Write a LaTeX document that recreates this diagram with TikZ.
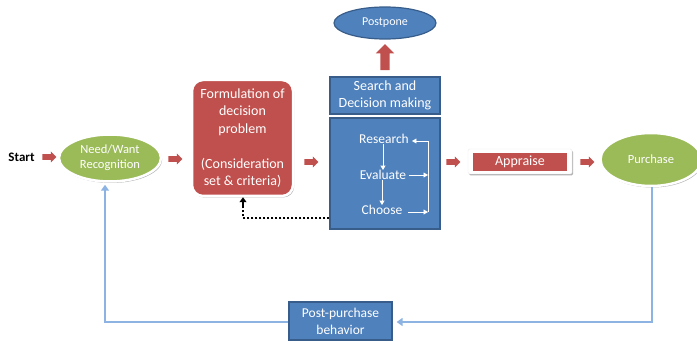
\documentclass[tikz,border=0pt]{standalone}
\usepackage{fontspec}
\setmainfont{Carlito}
\usetikzlibrary{shapes.geometric,shapes.arrows,arrows.meta,shadows}
\definecolor{cred}{HTML}{C0504D}
\definecolor{cgreen}{HTML}{9BBB59}
\definecolor{cblue}{HTML}{4F81BD}
\definecolor{cblueb}{HTML}{385D8A}
\definecolor{clight}{HTML}{8DB3E2}
\tikzset{
  shad/.style={drop shadow={shadow xshift=1.2pt,shadow yshift=-1.5pt,opacity=0.3,fill=black}},
  redarr/.style={single arrow,fill=cred,draw=none,minimum height=14pt,minimum width=11pt,
    inner sep=2.6pt,single arrow head extend=2.5pt,anchor=center},
  greenell/.style={ellipse,fill=cgreen,draw=white,line width=2.5pt,shad,text=white,
    font=\fontsize{12.5}{15}\selectfont,align=center,inner sep=0pt},
  bluebox/.style={rectangle,fill=cblue,draw=cblueb,line width=1.2pt,text=white,
    font=\fontsize{14}{17}\selectfont,align=center,inner sep=0pt},
  wtxt/.style={text=white,font=\fontsize{13.5}{16}\selectfont,inner sep=0pt},
  smallw/.style={white,line width=0.9pt,-{Triangle[width=5pt,length=4.5pt]}},
  fb/.style={clight,line width=2pt,-{Triangle[width=8pt,length=6pt]}}
}
\begin{document}
\begin{tikzpicture}[x=1pt,y=-1pt]
\useasboundingbox (0,0) rectangle (697,342);
% Start
\node[font=\bfseries\fontsize{13}{15}\selectfont,inner sep=0pt] (start) at (21.5,157) {Start};
\node[redarr] (a1) at (48,157) {};
% Need/Want
\node[greenell,minimum width=102pt,minimum height=47pt] (need) at (110,158) {Need/Want\\Recognition};
\node[redarr] (a2) at (174,159) {};
% Formulation
\node[rectangle,rounded corners=11pt,fill=cred,draw=white,line width=2.5pt,shad,text=white,
  minimum width=101pt,minimum height=116pt,align=center,inner sep=0pt,
  font=\fontsize{14}{17.5}\selectfont] (form) at (242.5,138)
  {Formulation of\\decision\\problem\\[17.5pt](Consideration\\set \& criteria)};
\node[redarr] (a3) at (310,162) {};
% Search box
\node[bluebox,minimum width=110pt,minimum height=37pt] (search) at (385,95.5) {Search and\\Decision making};
\node[bluebox,minimum width=110pt,minimum height=111pt] (proc) at (385,173.5) {};
\node[wtxt] (res) at (384,139) {Research};
\node[wtxt] (eva) at (383,175) {Evaluate};
\node[wtxt] (cho) at (382,210) {Choose};
\draw[smallw] (res.south -| 383,0) -- (eva.north -| 383,0);
\draw[smallw] (eva.south -| 382,0) -- (cho.north -| 382,0);
\coordinate (bt) at (428,141);
\coordinate (bb) at (428,212);
\draw[white,line width=0.9pt] (bt) -- (bb);
\draw[smallw] (bt) -- ([xshift=3pt]res.east |- bt);
\draw[smallw] ([xshift=3pt]eva.east) -- (eva.east -| bt);
\draw[smallw] ([xshift=6pt]cho.east |- bb) -- (bb);
% Postpone
\node[ellipse,fill=cblue,draw=cblueb,line width=1.2pt,minimum width=102pt,minimum height=32pt,
  text=white,font=\fontsize{12}{14}\selectfont,inner sep=0pt] (post) at (385,23) {Postpone};
\node[single arrow,fill=cred,draw=none,shape border rotate=90,minimum height=26pt,minimum width=18pt,
  inner sep=4.5pt,single arrow head extend=4.5pt] (up) at (385,59.5) {};
% dotted feedback
\coordinate (dt) at (243,218);
\draw[black,line width=2pt,dotted] (proc.west |- dt) -- (dt) -- (243,206);
\draw[black,line width=2pt,-{Triangle[width=7pt,length=5pt]}] (243,208) -- (form.south -| 243,0);
% Appraise
\node[redarr] (a4) at (452,162) {};
\node[rectangle,fill=white,draw=black!8,line width=0.4pt,shad,rounded corners=1.5pt,
  minimum width=104pt,minimum height=25pt] (appw) at (520,161.5) {};
\node[rectangle,fill=cred,minimum width=94pt,minimum height=18pt,text=white,inner sep=0pt,
  font=\fontsize{14}{17}\selectfont] (app) at (520,162) {Appraise};
\node[redarr] (a5) at (586,162) {};
% Purchase
\node[greenell,minimum width=101pt,minimum height=53pt] (purch) at (651,159.5) {Purchase};
% Post-purchase
\node[bluebox,minimum width=103pt,minimum height=38pt,font=\fontsize{13.5}{17}\selectfont] (pp) at (340.5,321) {Post-purchase\\behavior};
\coordinate (c1) at (652,322);
\coordinate (c2) at (105,322);
\draw[fb] (purch.south -| c1) -- (c1) -- ([xshift=4pt]pp.east |- c1);
\draw[fb] (pp.west |- c2) -- (c2) -- ([yshift=-2pt]need.south -| c2);
\end{tikzpicture}
\end{document}
